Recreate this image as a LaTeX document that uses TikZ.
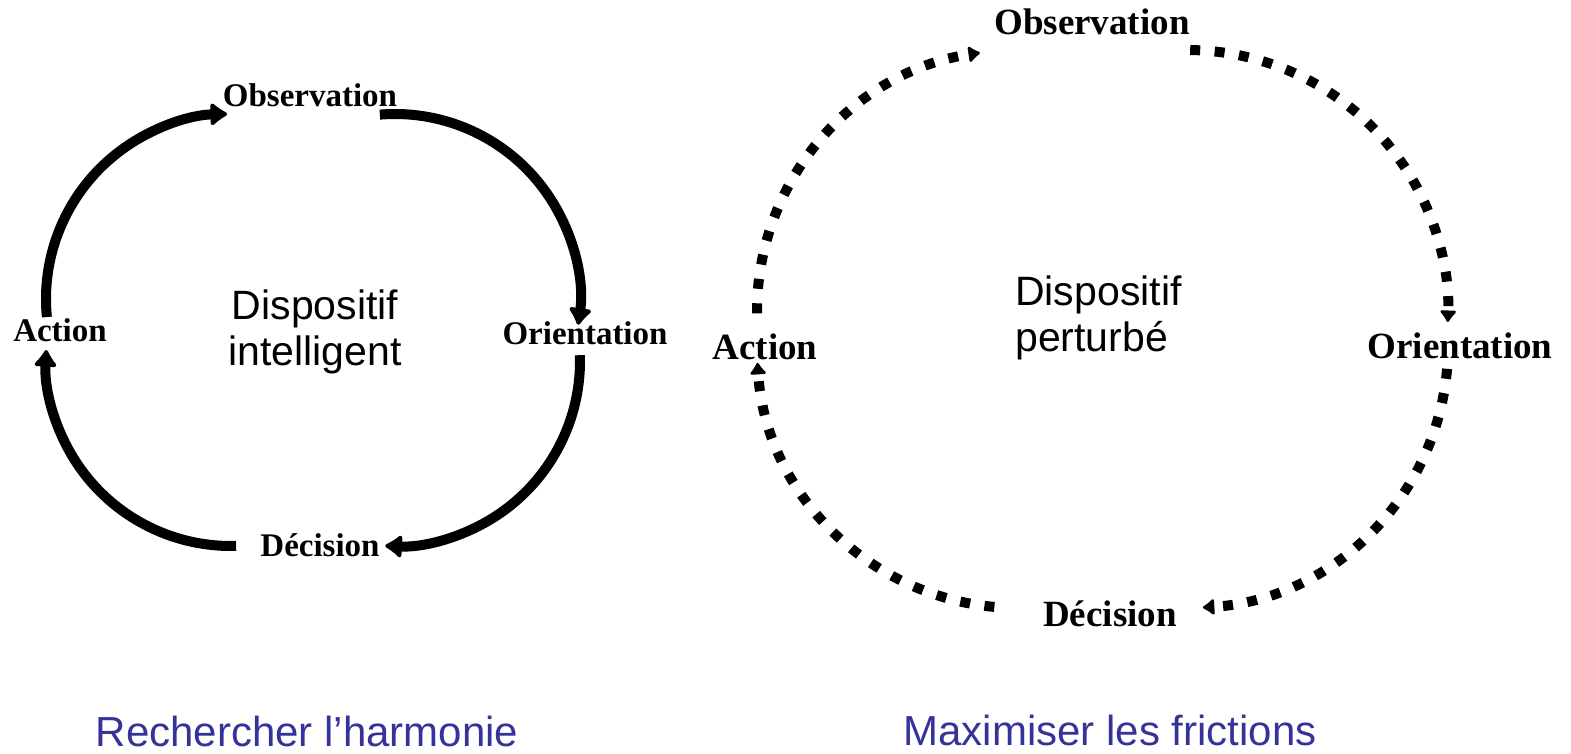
\documentclass[tikz,border=0pt]{standalone}
\usepackage{fontspec}
\setmainfont{Liberation Serif}
\newfontfamily\arialfont{Liberation Sans}
\usetikzlibrary{arrows.meta}
\definecolor{titleblue}{RGB}{51,51,153}
\begin{document}
\begin{tikzpicture}[x=1pt,y=-1pt,
  stagelabel/.style={font=\bfseries\fontsize{33}{38}\selectfont, inner sep=0pt},
  bigstage/.style={font=\bfseries\fontsize{37}{42}\selectfont, inner sep=0pt},
  centertext/.style={font=\arialfont\fontsize{41}{46}\selectfont, inner sep=0pt},
  titletext/.style={font=\arialfont\fontsize{42}{48}\selectfont, text=titleblue, inner sep=0pt},
  harmony/.style={line width=10pt, line cap=butt, -{Latex[round,length=19pt,width=28pt]}},
  friction/.style={line width=10pt, line cap=butt, dash pattern=on 10pt off 14.5pt, -{Latex[round,length=13pt,width=20pt]}}
]
\useasboundingbox (0,0) rectangle (1571,754);

% ---------- smooth loop: four circular arcs, radius 185 ----------
\node[stagelabel] (lobs) at (310,95) {Observation};
\node[stagelabel] (lori) at (585,333) {Orientation};
\node[stagelabel] (ldec) at (320,545) {Décision};
\node[stagelabel] (lact) at (60,330) {Action};
\node[centertext, align=center] (lmid) at (315,332) {Dispositif\\intelligent};

\coordinate (lc1) at (231,299);
\coordinate (lc2) at (395,299);
\coordinate (lc3) at (395,361);
\coordinate (lc4) at (231,361);
\draw[harmony] ([shift={(185.6:185pt)}]lc1) arc[start angle=185.6, end angle=91.2, radius=185pt];
\draw[harmony] ([shift={(94.7:185pt)}]lc2) arc[start angle=94.7, end angle=-8, radius=185pt];
\draw[harmony] ([shift={(1.8:185pt)}]lc3) arc[start angle=1.8, end angle=-93, radius=185pt];
\draw[harmony] ([shift={(271.6:185pt)}]lc4) arc[start angle=271.6, end angle=176.6, radius=185pt];

% ---------- disturbed loop: four dashed circular arcs, radius 261 ----------
\node[bigstage] (robs) at (1092,22) {Observation};
\node[bigstage] (rori) at (1460,346) {Orientation};
\node[bigstage] (rdec) at (1110,614) {Décision};
\node[bigstage] (ract) at (765,347) {Action};
\node[centertext, align=left, anchor=west] (rmid) at (1015,318) {Dispositif\\perturbé};

\coordinate (rc1) at (1018,311);
\coordinate (rc2) at (1187,311);
\coordinate (rc3) at (1187,347);
\coordinate (rc4) at (1018,347);
\draw[friction] ([shift={(180.5:261pt)}]rc1) arc[start angle=180.5, end angle=98.4, radius=261pt];
\draw[friction] ([shift={(89.3:261pt)}]rc2) arc[start angle=89.3, end angle=-2.4, radius=261pt];
\draw[friction] ([shift={(-4.8:261pt)}]rc3) arc[start angle=-4.8, end angle=-86.5, radius=261pt];
\draw[friction] ([shift={(264.8:261pt)}]rc4) arc[start angle=264.8, end angle=183.5, radius=261pt];

% ---------- captions ----------
\node[titletext] (ltitle) at (307,731) {Rechercher l’harmonie};
\node[titletext] (rtitle) at (1110,730) {Maximiser les frictions};
\end{tikzpicture}
\end{document}
